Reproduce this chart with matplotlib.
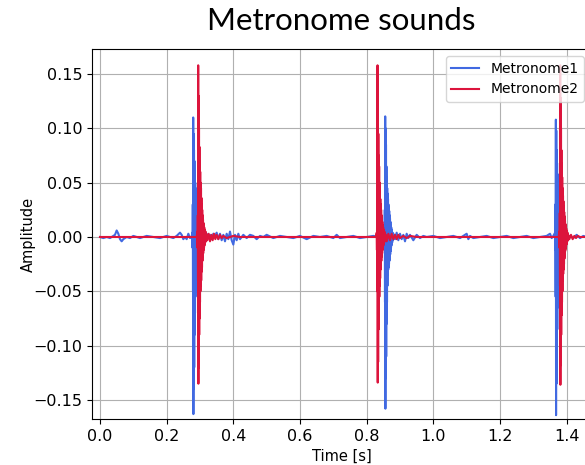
import numpy as np
import matplotlib
matplotlib.use("Agg")
import matplotlib.pyplot as plt

# sample spacing inside a click (s)
dt = 0.0006

# --- Metronome1 (blue) ---
clicks1_start = [0.2772, 0.8532, 1.3652]
click1_a = [0.004, -0.01, 0.03, -0.05, 0.11, -0.163, 0.095, -0.14, 0.08, -0.12, 0.07, -0.09,
            0.06, -0.07, 0.05, -0.055, 0.045, -0.05, 0.04, -0.04, 0.035, -0.035, 0.03, -0.03,
            0.028, -0.025, 0.022, -0.02, 0.018, -0.018, 0.015, -0.014, 0.012, -0.011, 0.01,
            -0.009, 0.008, -0.007, 0.006, -0.005, 0.004, -0.004, 0.003, -0.003]
click1_b = [0.003, -0.008, 0.025, -0.06, 0.111, -0.158, 0.1, -0.13, 0.085, -0.11, 0.065, -0.08,
            0.055, -0.06, 0.045, -0.045, 0.04, -0.035, 0.035, -0.03, 0.03, -0.028, 0.027, -0.025,
            0.024, -0.022, 0.02, -0.02, 0.017, -0.016, 0.014, -0.013, 0.011, -0.01, 0.009,
            -0.008, 0.007, -0.006, 0.005, -0.005, 0.004, -0.003, 0.003, -0.002]
click1_c = [0.004, -0.012, 0.03, -0.055, 0.108, -0.164, 0.098, -0.135, 0.08, -0.115, 0.068, -0.085,
            0.058, -0.065, 0.048, -0.05, 0.042, -0.042, 0.036, -0.036, 0.03, -0.03, 0.027, -0.026,
            0.023, -0.021, 0.019, -0.018, 0.016, -0.015, 0.013, -0.012, 0.011, -0.01, 0.009,
            -0.008, 0.007, -0.006, 0.005, -0.004, 0.004, -0.003, 0.003, -0.002]
base1_t = [0.0, 0.01, 0.02, 0.03, 0.04, 0.045, 0.05, 0.055, 0.06, 0.065, 0.07, 0.08, 0.09, 0.10,
           0.12, 0.14, 0.16, 0.18, 0.20, 0.21, 0.22, 0.23, 0.24, 0.245, 0.25, 0.255, 0.26, 0.265,
           0.27, 0.275,
           0.30, 0.305, 0.31, 0.315, 0.32, 0.325, 0.33, 0.335, 0.34, 0.345, 0.35, 0.355, 0.36,
           0.365, 0.37, 0.375, 0.38, 0.385, 0.39, 0.395, 0.40, 0.405, 0.41, 0.415, 0.42, 0.43,
           0.44, 0.45, 0.46, 0.47, 0.48, 0.49, 0.50, 0.52, 0.54, 0.56, 0.58, 0.60, 0.62, 0.64,
           0.66, 0.68, 0.70, 0.71, 0.72, 0.74, 0.76, 0.78, 0.80, 0.82, 0.84, 0.85,
           0.88, 0.885, 0.89, 0.895, 0.90, 0.905, 0.91, 0.915, 0.92, 0.925, 0.93, 0.94, 0.95,
           0.96, 0.97, 0.98, 1.00, 1.02, 1.04, 1.06, 1.08, 1.10, 1.105, 1.11, 1.12, 1.14, 1.16,
           1.18, 1.20, 1.22, 1.24, 1.26, 1.28, 1.30, 1.32, 1.34, 1.35, 1.355, 1.36,
           1.39, 1.40, 1.41, 1.42, 1.43, 1.44, 1.45, 1.46, 1.48, 1.50]
base1_v = [0.0, -0.001, 0.0, -0.001, 0.001, 0.002, 0.006, 0.003, -0.002, -0.004, -0.002, 0.0,
           -0.001, 0.001, -0.001, 0.001, 0.0, -0.001, 0.001, 0.0, -0.001, 0.001, 0.004, 0.002,
           -0.002, 0.0, -0.002, 0.003, -0.001, 0.0,
           0.004, -0.003, 0.002, -0.002, 0.003, -0.001, 0.002, -0.002, 0.003, 0.001, 0.004,
           -0.002, 0.003, -0.003, 0.002, -0.004, 0.003, -0.002, 0.005, -0.003, -0.007, 0.002,
           -0.003, 0.003, -0.002, 0.002, -0.001, 0.002, 0.001, -0.002, 0.001, 0.0, 0.002,
           -0.001, 0.001, 0.0, -0.001, 0.001, -0.002, 0.001, 0.0, 0.001, -0.001, 0.002, -0.001,
           0.0, 0.001, -0.001, 0.0, 0.001, 0.0, 0.001,
           0.003, -0.002, 0.004, -0.003, 0.003, -0.002, 0.002, -0.004, 0.003, -0.001, 0.002,
           -0.003, 0.002, -0.001, 0.001, 0.0, 0.001, -0.001, 0.0, 0.001, -0.001, 0.003, -0.002,
           0.001, -0.001, 0.0, 0.001, -0.001, 0.0, 0.001, -0.001, 0.0, 0.001, -0.001, 0.0,
           0.001, 0.003, -0.001, 0.001,
           0.002, -0.002, 0.001, -0.001, 0.002, -0.001, 0.001, 0.0, 0.001, 0.0]

# --- Metronome2 (red) ---
clicks2_start = [0.2922, 0.8302, 1.3782]
click2_a = [0.005, -0.01, 0.02, -0.04, 0.158, -0.135, 0.13, -0.12, 0.10, -0.09, 0.083, -0.075,
            0.07, -0.06, 0.06, -0.05, 0.05, -0.045, 0.045, -0.04, 0.036, -0.032, 0.03, -0.028,
            0.025, -0.022, 0.02, -0.018, 0.016, -0.015, 0.013, -0.012, 0.011, -0.01, 0.009,
            -0.008, 0.007, -0.006, 0.006, -0.005, 0.005, -0.004, 0.004, -0.003, 0.003, -0.003]
click2_b = [0.004, -0.012, 0.025, -0.05, 0.158, -0.134, 0.125, -0.115, 0.095, -0.085, 0.075,
            -0.07, 0.065, -0.055, 0.05, -0.045, 0.042, -0.038, 0.035, -0.03, 0.03, -0.026,
            0.025, -0.022, 0.02, -0.018, 0.017, -0.015, 0.014, -0.012, 0.011, -0.01, 0.009,
            -0.008, 0.007, -0.006, 0.006, -0.005, 0.005, -0.004, 0.004, -0.003, 0.003, -0.002,
            0.002, -0.002]
click2_c = [0.005, -0.01, 0.022, -0.045, 0.158, -0.136, 0.128, -0.118, 0.1, -0.09, 0.08, -0.072,
            0.068, -0.06, 0.055, -0.05, 0.045, -0.04, 0.038, -0.034, 0.033, -0.03, 0.028, -0.025,
            0.023, -0.02, 0.019, -0.017, 0.015, -0.013, 0.012, -0.011, 0.01, -0.009, 0.008,
            -0.007, 0.006, -0.006, 0.005, -0.004, 0.004, -0.003, 0.003, -0.003, 0.002, -0.002]
base2_t = [0.0, 0.05, 0.10, 0.15, 0.20, 0.25, 0.29,
           0.322, 0.326, 0.33, 0.334, 0.338, 0.342, 0.346, 0.35, 0.355, 0.36, 0.365,
           0.37, 0.38, 0.40, 0.42, 0.50, 0.60, 0.70, 0.80, 0.828,
           0.86, 0.865, 0.87, 0.875, 0.88, 0.885, 0.89, 0.895, 0.90, 0.91, 0.92, 0.93,
           0.95, 1.00, 1.10, 1.20, 1.30, 1.376,
           1.408, 1.413, 1.418, 1.423, 1.428, 1.433, 1.44, 1.46, 1.50]
base2_v = [0.0, 0.0, 0.0, 0.0, 0.0, 0.0, 0.0,
           -0.003, 0.003, -0.004, 0.002, -0.003, 0.003, -0.002, 0.002, -0.002, 0.002,
           -0.001, 0.001, -0.001, 0.001, 0.0, 0.0, 0.0, 0.0, 0.0, 0.0,
           -0.004, 0.003, -0.003, 0.003, -0.002, 0.002, -0.002, 0.002, -0.001, 0.001,
           -0.001, 0.001, 0.0, 0.0, 0.0, 0.0, 0.0, 0.0,
           -0.002, 0.002, -0.002, 0.001, -0.001, 0.001, 0.0, 0.0, 0.0]


def build(starts, clicks, bt, bv):
    t = list(bt)
    v = list(bv)
    for s, c in zip(starts, clicks):
        t += list(s + np.arange(len(c)) * dt)
        v += c
    order = np.argsort(t)
    return np.array(t)[order], np.array(v)[order]


t1, y1 = build(clicks1_start, [click1_a, click1_b, click1_c], base1_t, base1_v)
t2, y2 = build(clicks2_start, [click2_a, click2_b, click2_c], base2_t, base2_v)

fig = plt.figure(figsize=(5.85, 4.65), dpi=100)
ax = fig.add_axes([92 / 585, 46 / 465, 499 / 585, 370 / 465])
ax.plot(t1, y1, color='royalblue', lw=1.5, label='Metronome1')
ax.plot(t2, y2, color='crimson', lw=1.5, label='Metronome2')
ax.set_xlim(-0.024, 1.473)
ax.set_ylim(-0.1675, 0.173)
ax.set_xticks([0.0, 0.2, 0.4, 0.6, 0.8, 1.0, 1.2, 1.4])
ax.set_yticks([-0.15, -0.10, -0.05, 0.0, 0.05, 0.10, 0.15])
ax.tick_params(labelsize=11.5)
ax.grid(True)
ax.set_xlabel('Time [s]', fontsize=10.5)
ax.set_ylabel('Amplitude', fontsize=10.5)
ax.yaxis.set_label_coords(-0.112, 0.5)
ax.legend(loc='upper right', fontsize=10)
ax.set_title('Metronome sounds', fontsize=22.5, family='Lato', pad=14)
fig.savefig('out.png', dpi=100)
